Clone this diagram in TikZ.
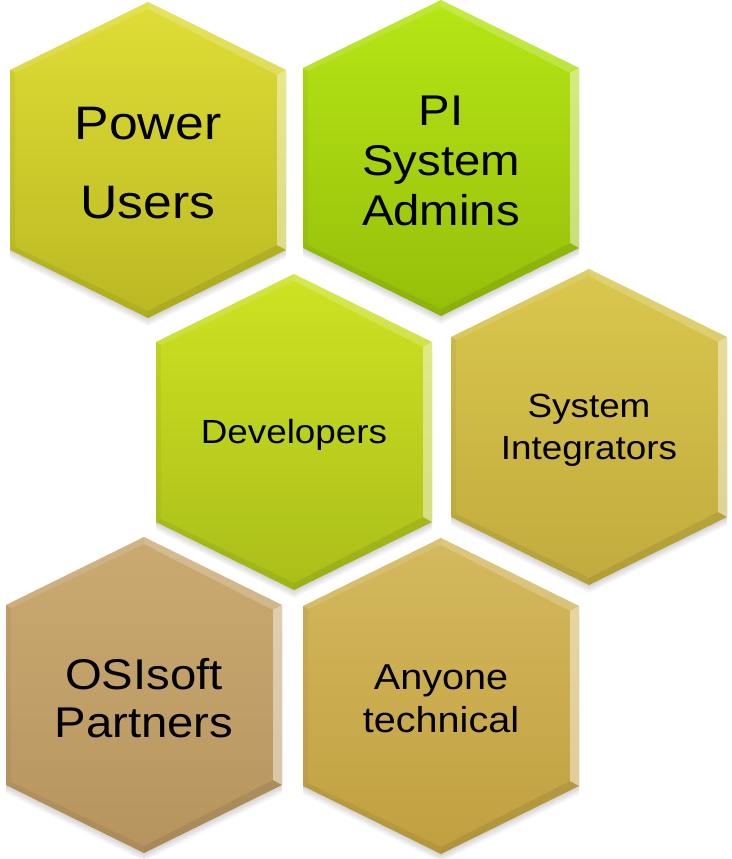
\documentclass[tikz,border=0pt]{standalone}
\usepackage{fontspec}
\setmainfont{Liberation Sans}
\newfontfamily\hexfont[FakeStretch=1.1]{Liberation Sans}
\definecolor{hAt}{HTML}{DFDD35}\definecolor{hAb}{HTML}{BAB923}
\definecolor{hBt}{HTML}{B6E615}\definecolor{hBb}{HTML}{96BE0A}
\definecolor{hCt}{HTML}{CEE322}\definecolor{hCb}{HTML}{AABE1A}
\definecolor{hDt}{HTML}{D9C74D}\definecolor{hDb}{HTML}{C2AB3E}
\definecolor{hEt}{HTML}{CBAA72}\definecolor{hEb}{HTML}{B7945E}
\definecolor{hFt}{HTML}{D5B95E}\definecolor{hFb}{HTML}{C0A040}
\tikzset{hexlabel/.style={align=center,text=black,inner sep=0pt,yshift=-3pt}}
\newcommand\hexpath{(0,-158) -- (138,-90) -- (138,90) -- (0,158) -- (-138,90) -- (-138,-90) -- cycle}
\newcommand\hexcell[8]{%
\begin{scope}[shift={(#2,#3)}]
  \foreach \s in {2,4,6,8} {\fill[black,opacity=0.04,yshift=-\s pt] \hexpath;}
  \shade[top color=#4,bottom color=#5] \hexpath;
  \fill[white,opacity=0.45] (138,-90) -- (138,90) -- (129,85) -- (129,-85) -- cycle;
  \fill[white,opacity=0.2] (0,158) -- (138,90) -- (129,85) -- (0,151) -- cycle;
  \fill[white,opacity=0.12] (0,158) -- (-138,90) -- (-133,87) -- (0,151) -- cycle;
  \fill[black,opacity=0.04] (-138,90) -- (-138,-90) -- (-133,-87) -- (-133,87) -- cycle;
  \fill[black,opacity=0.06] (-138,-90) -- (0,-158) -- (0,-151) -- (-133,-87) -- cycle;
  \fill[black,opacity=0.08] (0,-158) -- (138,-90) -- (129,-85) -- (0,-151) -- cycle;
  \node[hexlabel,font=\hexfont\fontsize{#6}{#7}\selectfont] (#1) at (0,0) {#8};
\end{scope}}
\begin{document}
\begin{tikzpicture}[x=1pt,y=1pt]
\useasboundingbox (0,0) rectangle (731,859);
\fill[white] (0,0) rectangle (731,859);
\hexcell{power}{148}{699}{hAt}{hAb}{47}{79}{Power\\Users}
\hexcell{admins}{441}{701}{hBt}{hBb}{43}{50}{PI\\System\\Admins}
\hexcell{dev}{294}{427}{hCt}{hCb}{33.5}{40}{Developers}
\hexcell{integr}{589}{432}{hDt}{hDb}{33.5}{42}{System\\Integrators}
\hexcell{partners}{144}{164}{hEt}{hEb}{43}{48}{OSIsoft\\Partners}
\hexcell{anyone}{441}{163}{hFt}{hFb}{36}{43}{Anyone\\technical}
\end{tikzpicture}
\end{document}
